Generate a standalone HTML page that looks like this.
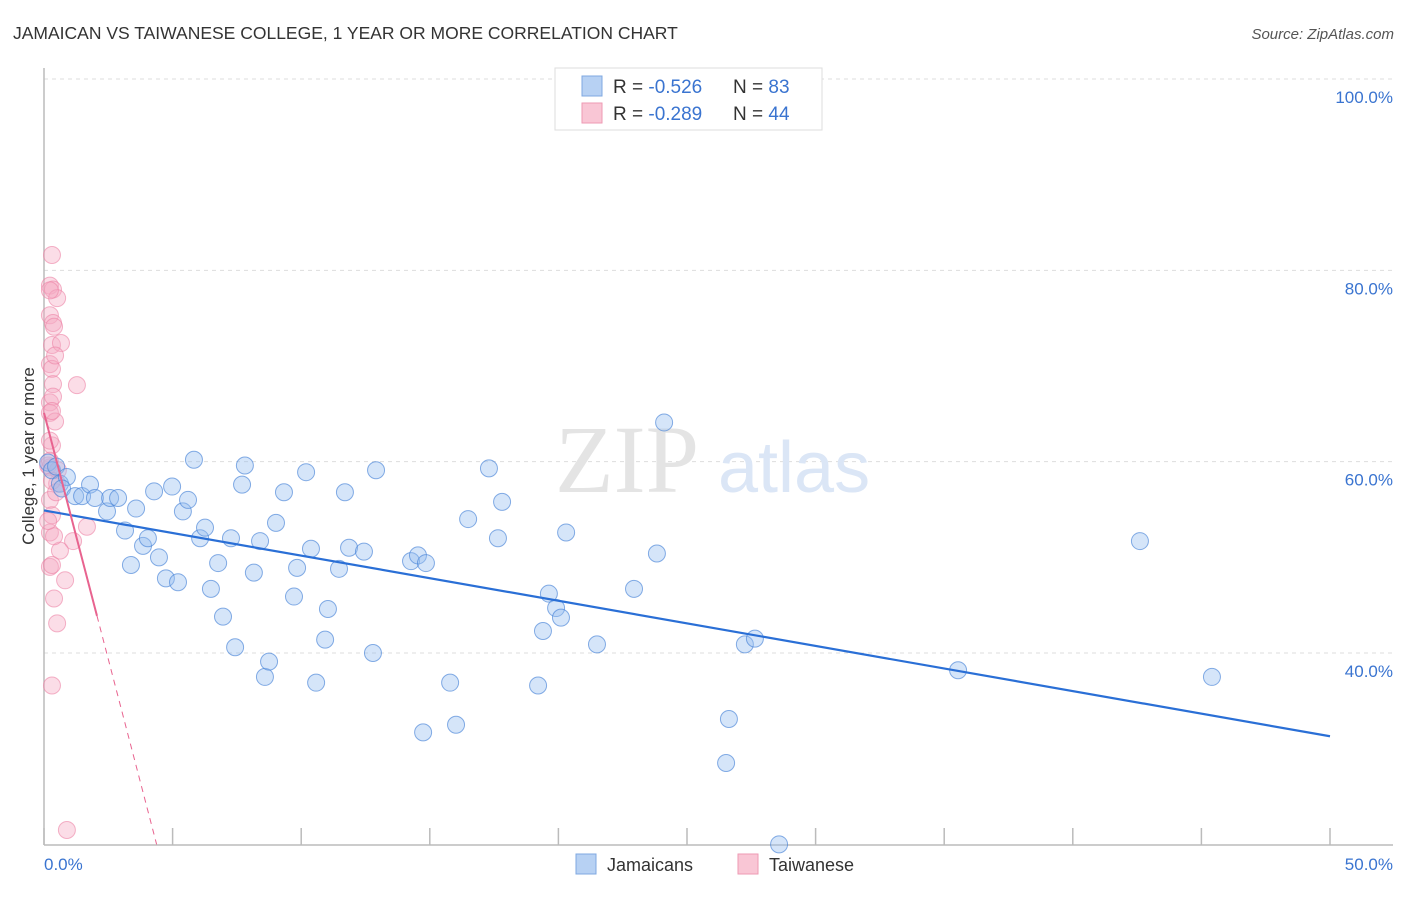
<!DOCTYPE html>
<html><head><meta charset="utf-8"><style>
body{margin:0;background:#fff;font-family:"Liberation Sans",sans-serif}
svg text{font-family:"Liberation Sans",sans-serif}
</style></head><body>
<svg id="chart" width="1406" height="892" xmlns="http://www.w3.org/2000/svg">
<text x="13" y="39" font-size="17.5" fill="#333">JAMAICAN VS TAIWANESE COLLEGE, 1 YEAR OR MORE CORRELATION CHART</text>
<text x="1394" y="39" font-size="15" fill="#555" text-anchor="end" font-style="italic">Source: ZipAtlas.com</text>
<g id="grid"></g>
<text x="555" y="492" font-size="96" fill="#e4e4e4" font-family="Liberation Serif" style="font-family:'Liberation Serif',serif">ZIP</text>
<text x="718" y="492" font-size="72" fill="#dbe6f6">atlas</text>
<g id="marks"></g>
<text transform="translate(34,456) rotate(-90)" font-size="17" fill="#333" text-anchor="middle">College, 1 year or more</text>
<text x="44" y="870" font-size="17" fill="#3a74d0">0.0%</text>
<text x="1393" y="870" font-size="17" fill="#3a74d0" text-anchor="end">50.0%</text>
<g>
<rect x="555" y="68" width="267" height="62" fill="#fff" stroke="#ddd"/>
<rect x="582" y="76" width="20" height="20" fill="#b7d1f3" stroke="#7fa8e0"/>
<rect x="582" y="103" width="20" height="20" fill="#f9c6d5" stroke="#ee9ab3"/>
<text x="613" y="93" font-size="19" fill="#333">R = <tspan fill="#3a74d0">-0.526</tspan></text>
<text x="733" y="93" font-size="19" fill="#333">N = <tspan fill="#3a74d0">83</tspan></text>
<text x="613" y="120" font-size="19" fill="#333">R = <tspan fill="#3a74d0">-0.289</tspan></text>
<text x="733" y="120" font-size="19" fill="#333">N = <tspan fill="#3a74d0">44</tspan></text>
</g>
<g>
<rect x="576" y="854" width="20" height="20" fill="#b7d1f3" stroke="#7fa8e0"/>
<text x="607" y="871" font-size="18" fill="#333">Jamaicans</text>
<rect x="738" y="854" width="20" height="20" fill="#f9c6d5" stroke="#ee9ab3"/>
<text x="769" y="871" font-size="18" fill="#333">Taiwanese</text>
</g>
</svg>
<script>
const yTicks=[100,80,60,40];
const yTickLabels=["100.0%","80.0%","60.0%","40.0%"];
const xTicks=[0,5,10,15,20,25,30,35,40,45,50];
const jamX=[0.16,0.31,0.47,0.62,0.89,0.70,1.21,1.48,1.79,1.98,2.45,2.57,2.88,3.15,3.38,3.58,3.85,4.04,4.28,4.47,4.74,4.98,5.21,5.40,5.60,5.83,6.07,6.26,6.49,6.77,6.96,7.27,7.43,7.70,7.81,8.16,8.40,8.59,8.75,9.02,9.33,9.72,9.84,10.19,10.38,10.58,10.93,11.04,11.47,11.70,11.86,12.44,12.79,12.91,14.27,14.54,14.74,14.85,15.79,16.02,16.49,17.30,17.65,17.81,19.21,19.40,19.63,19.91,20.10,20.30,21.50,22.94,23.83,24.11,26.63,26.52,27.25,27.64,28.58,35.54,42.61,45.41];
const jamY=[59.9,59.1,59.5,57.7,58.4,57.2,56.4,56.4,57.6,56.2,54.8,56.2,56.2,52.8,49.2,55.1,51.2,52.0,56.9,50.0,47.8,57.4,47.4,54.8,56.0,60.2,52.0,53.1,46.7,49.4,43.8,52.0,40.6,57.6,59.6,48.4,51.7,37.5,39.1,53.6,56.8,45.9,48.9,58.9,50.9,36.9,41.4,44.6,48.8,56.8,51.0,50.6,40.0,59.1,49.6,50.2,31.7,49.4,36.9,32.5,54.0,59.3,52.0,55.8,36.6,42.3,46.2,44.7,43.7,52.6,40.9,46.7,50.4,64.1,33.1,28.5,40.9,41.5,20.0,38.2,51.7,37.5];
const taiX=[0.31,0.23,0.35,0.51,0.23,0.35,0.39,0.31,0.66,0.23,0.31,0.35,1.28,0.23,0.35,0.23,0.43,0.31,0.23,0.51,0.23,0.31,0.23,1.67,1.13,0.62,0.23,0.31,0.82,0.39,0.51,0.31,0.89,0.16,0.47,0.39,0.23,0.16,0.31,0.43,0.23,0.54,0.31,0.23];
const taiY=[81.6,78.4,78.0,77.1,75.3,74.5,74.1,72.2,72.4,70.2,69.7,68.1,68.0,66.2,66.8,65.1,64.2,61.7,59.4,57.7,56.0,54.4,52.6,53.2,51.7,50.7,49.0,49.2,47.6,45.7,43.1,36.6,21.5,59.6,56.8,52.2,60.1,53.8,65.3,71.1,77.9,59.1,58.0,62.2];
const jamTrend=[54.9,31.3];
const taiTrend=[65.1,-10.3];
const X=v=>44+v*(1330-44)/50;
const Y=v=>79+(100-v)*(653-79)/60;
const NS="http://www.w3.org/2000/svg";
function mk(tag,attrs,parent){const e=document.createElementNS(NS,tag);for(const k in attrs)e.setAttribute(k,attrs[k]);parent.appendChild(e);return e;}
const grid=document.getElementById('grid'),marks=document.getElementById('marks'),svg=document.getElementById('chart');
yTicks.forEach((t,i)=>{
 const l=mk('line',{x1:44,x2:1393,y1:Y(t),y2:Y(t),stroke:'#ddd','stroke-dasharray':'4,4'},grid);
 
 
 const tx=mk('text',{x:1393,y:Y(t)+24,'font-size':17,fill:'#3a74d0','text-anchor':'end'},svg);
 tx.textContent=yTickLabels[i];
 
 
});
const ax=mk('line',{x1:44,x2:1393,y1:845,y2:845,stroke:'#bbb','stroke-width':1.5},grid);


const ay=mk('line',{x1:44,x2:44,y1:68,y2:845,stroke:'#bbb','stroke-width':1.5},grid);


xTicks.forEach(t=>{
 const l=mk('line',{x1:X(t),x2:X(t),y1:828,y2:845,stroke:'#bbb','stroke-width':1.5},grid);
 
 
});
taiX.forEach((v,i)=>{
 const c=mk('ellipse',{cx:X(v),cy:Y(taiY[i]),rx:8.5,ry:8.5,fill:'rgba(246,170,195,0.4)',stroke:'rgba(236,130,165,0.6)'},marks);
 
 
});
jamX.forEach((v,i)=>{
 const c=mk('ellipse',{cx:X(v),cy:Y(jamY[i]),rx:8.5,ry:8.5,fill:'rgba(150,190,240,0.4)',stroke:'rgba(70,130,215,0.65)'},marks);
 
 
});
const jl=mk('line',{x1:X(0),y1:Y(jamTrend[0]),x2:X(50),y2:Y(jamTrend[1]),stroke:'#2a6fd6','stroke-width':2.2},marks);


const tEnd=2.06, tStop=(20-taiTrend[0])/taiTrend[1];
const tl=mk('line',{x1:X(0),y1:Y(taiTrend[0]),x2:X(tEnd),y2:Y(taiTrend[0]+taiTrend[1]*tEnd),stroke:'#e8638f','stroke-width':2},marks);


const td=mk('line',{x1:X(tEnd),y1:Y(taiTrend[0]+taiTrend[1]*tEnd),x2:X(tStop),y2:Y(20),stroke:'#e8638f','stroke-width':1,'stroke-dasharray':'6,5'},marks);


</script>
</body></html>
